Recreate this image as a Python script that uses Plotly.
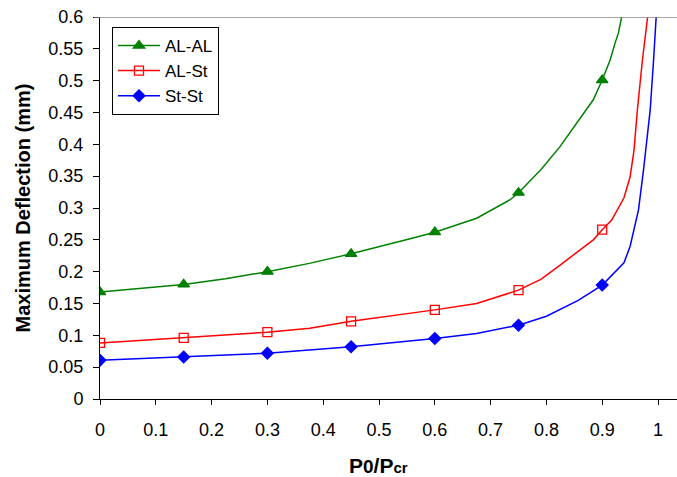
import plotly.graph_objects as go

# Load ratio P0/Pcr and maximum deflection (mm) for each material pairing.
# Full curve samples (lines)
x_alal = [0, 0.075, 0.15, 0.225, 0.3, 0.375, 0.45, 0.561, 0.6, 0.675, 0.735, 0.75,
          0.79, 0.824, 0.854, 0.884, 0.9, 0.914, 0.923, 0.929, 0.936]
y_alal = [0.168, 0.174, 0.180, 0.189, 0.200, 0.213, 0.228, 0.253, 0.262, 0.284, 0.313, 0.324,
          0.360, 0.396, 0.433, 0.470, 0.501, 0.532, 0.559, 0.575, 0.605]

x_alst = [0, 0.15, 0.3, 0.376, 0.45, 0.6, 0.675, 0.75, 0.79, 0.824, 0.884, 0.9,
          0.917, 0.939, 0.950, 0.957, 0.963, 0.972, 0.982]
y_alst = [0.088, 0.096, 0.105, 0.111, 0.122, 0.140, 0.150, 0.171, 0.188, 0.210, 0.250, 0.266,
          0.281, 0.316, 0.349, 0.391, 0.454, 0.532, 0.605]

x_stst = [0, 0.15, 0.3, 0.45, 0.6, 0.675, 0.75, 0.8, 0.857, 0.9, 0.939, 0.950,
          0.965, 0.974, 0.978, 0.986, 0.992, 0.997]
y_stst = [0.061, 0.066, 0.072, 0.082, 0.095, 0.103, 0.116, 0.130, 0.155, 0.179, 0.214, 0.240,
          0.297, 0.360, 0.391, 0.454, 0.532, 0.605]

# Marked points
x_marks = [0, 0.15, 0.3, 0.45, 0.6, 0.75, 0.9]
m_alal = [0.168, 0.180, 0.200, 0.228, 0.262, 0.324, 0.501]
m_alst = [0.088, 0.096, 0.105, 0.122, 0.140, 0.171, 0.266]
m_stst = [0.061, 0.066, 0.072, 0.082, 0.095, 0.116, 0.179]

series_names = ["AL-AL", "AL-St", "St-St"]
x_ticks = [0, 0.1, 0.2, 0.3, 0.4, 0.5, 0.6, 0.7, 0.8, 0.9, 1]
x_tick_text = ["0", "0.1", "0.2", "0.3", "0.4", "0.5", "0.6", "0.7", "0.8", "0.9", "1"]
y_ticks = [0, 0.05, 0.1, 0.15, 0.2, 0.25, 0.3, 0.35, 0.4, 0.45, 0.5, 0.55, 0.6]
y_tick_text = ["0", "0.05", "0.1", "0.15", "0.2", "0.25", "0.3", "0.35", "0.4", "0.45", "0.5", "0.55", "0.6"]

FONT = "Liberation Sans, Arial, sans-serif"

styles = [
    dict(color="#008000", symbol="triangle-up", size=10, fill="#008000"),
    dict(color="#FF0000", symbol="square-open", size=9, fill="#FF0000"),
    dict(color="#0000FF", symbol="diamond", size=9, fill="#0000FF"),
]
curves = [(x_alal, y_alal, m_alal), (x_alst, y_alst, m_alst), (x_stst, y_stst, m_stst)]

fig = go.Figure()
for name, (xs, ys, ms), st in zip(series_names, curves, styles):
    fig.add_trace(go.Scatter(x=xs, y=ys, mode="lines", showlegend=False,
                             line=dict(color=st["color"], width=1.5)))
    fig.add_trace(go.Scatter(x=x_marks, y=ms, mode="markers", showlegend=False,
                             marker=dict(symbol=st["symbol"], size=st["size"], color=st["fill"],
                                         line=dict(color=st["color"], width=1.3))))
    # legend entry combining line and marker
    fig.add_trace(go.Scatter(x=[None], y=[None], mode="lines+markers", name=name,
                             line=dict(color=st["color"], width=1.5),
                             marker=dict(symbol=st["symbol"], size=st["size"], color=st["fill"],
                                         line=dict(color=st["color"], width=1.3))))

# grey plot-area frame along the top
fig.add_shape(type="line", xref="paper", yref="y", x0=-0.01, x1=1, y0=0.6, y1=0.6,
              line=dict(color="#888888", width=1.5))

fig.update_layout(
    width=677, height=477,
    margin=dict(l=100, r=0, t=17, b=78),
    paper_bgcolor="white", plot_bgcolor="white",
    font=dict(family=FONT, size=17, color="black"),
    showlegend=True,
    legend=dict(x=0.0208, y=0.974, xanchor="left", yanchor="top",
                bgcolor="white", bordercolor="black", borderwidth=1,
                font=dict(family=FONT, size=17), tracegroupgap=0, itemwidth=42),
    xaxis=dict(range=[0, 1.034], tickvals=x_ticks, ticktext=x_tick_text,
               showgrid=False, zeroline=False, showline=True, linecolor="black", linewidth=1,
               ticks="outside", ticklen=5, tickcolor="black", tickwidth=1,
               tickfont=dict(family=FONT, size=18), ticklabelstandoff=9),
    yaxis=dict(range=[0, 0.6], tickvals=y_ticks, ticktext=y_tick_text,
               showgrid=False, zeroline=False, showline=True, linecolor="black", linewidth=1,
               ticks="outside", ticklen=6, tickcolor="black", tickwidth=1,
               tickfont=dict(family=FONT, size=18), ticklabelstandoff=6,
               title=dict(text="<b>Maximum Deflection (mm)</b>",
                          font=dict(family=FONT, size=20), standoff=12)),
)

fig.add_annotation(xref="paper", yref="paper", x=0.4835, y=-0.175,
                   xanchor="center", yanchor="middle", showarrow=False,
                   text="<b>P<span style='font-size:19px'>0</span>/P<span style='font-size:15px'>cr</span></b>",
                   font=dict(family=FONT, size=21))

fig.write_html("out.html")
